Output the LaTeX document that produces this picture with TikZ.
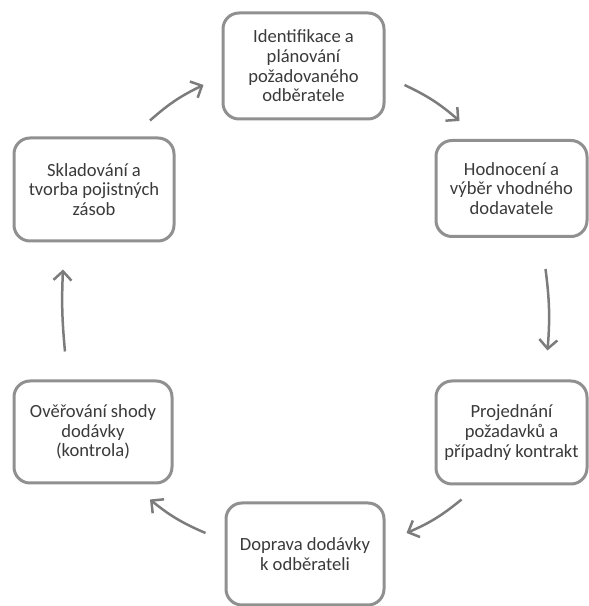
\documentclass[tikz,border=0pt]{standalone}
\usepackage{fontspec}
\setmainfont{Carlito}
\usepackage{xcolor}
\usetikzlibrary{arrows.meta}
\definecolor{boxgray}{HTML}{909090}
\definecolor{arrowgray}{HTML}{7C7C7C}
\definecolor{textgray}{HTML}{3A3A3A}

\tikzset{
    stage/.style={draw=boxgray, line width=3pt, rounded corners=16pt, align=center,
        text=textgray, font=\fontsize{18.6}{19.6}\selectfont, inner sep=0pt},
    flow/.style={arrowgray, line width=2.5pt, -{Straight Barb[length=9pt, width=18pt]}}
}

\begin{document}
\begin{tikzpicture}[x=1pt, y=1pt]
        \useasboundingbox (0, 0) rectangle (589, 606);
        % the six stages
        \node[stage, minimum width=161pt, minimum height=106pt] (ident) at (303.5, 540) {Identifikace a\\plánování\\požadovaného\\odběratele};
        \node[stage, minimum width=151pt, minimum height=96pt] (eval) at (511.5, 417.5) {Hodnocení a\\výběr vhodného\\dodavatele};
        \node[stage, minimum width=151pt, minimum height=103pt] (negot) at (511.5, 173.5) {Projednání\\požadavků a\\případný kontrakt};
        \node[stage, minimum width=158pt, minimum height=102pt] (trans) at (305, 52) {Doprava dodávky\\k odběrateli};
        \node[stage, minimum width=158pt, minimum height=102pt] (check) at (93, 174) {Ověřování shody\\dodávky\\(kontrola)};
        \node[stage, minimum width=160pt, minimum height=103pt] (store) at (94, 416.5) {Skladování a\\tvorba pojistných\\zásob};
        % arrows round the cycle
        \draw[flow] ([shift={(19, -19)}]ident.east) to[bend left=8] ([shift={(-52, 18)}]eval.north);
        \draw[flow] ([shift={(34, -31)}]eval.south) to[bend left=6] ([shift={(36, 29)}]negot.north);
        \draw[flow] ([shift={(-50, -14)}]negot.south) to[bend left=8] ([shift={(21, 21)}]trans.east);
        \draw[flow] ([shift={(-19, 21)}]trans.west) to[bend left=8] ([shift={(57, -15)}]check.south);
        \draw[flow] ([shift={(-28, 28)}]check.north) to[bend left=4] ([shift={(-31, -27)}]store.south);
        \draw[flow] ([shift={(56, 16)}]store.north) to[bend left=8] ([shift={(-18, -19)}]ident.west);
\end{tikzpicture}
\end{document}
